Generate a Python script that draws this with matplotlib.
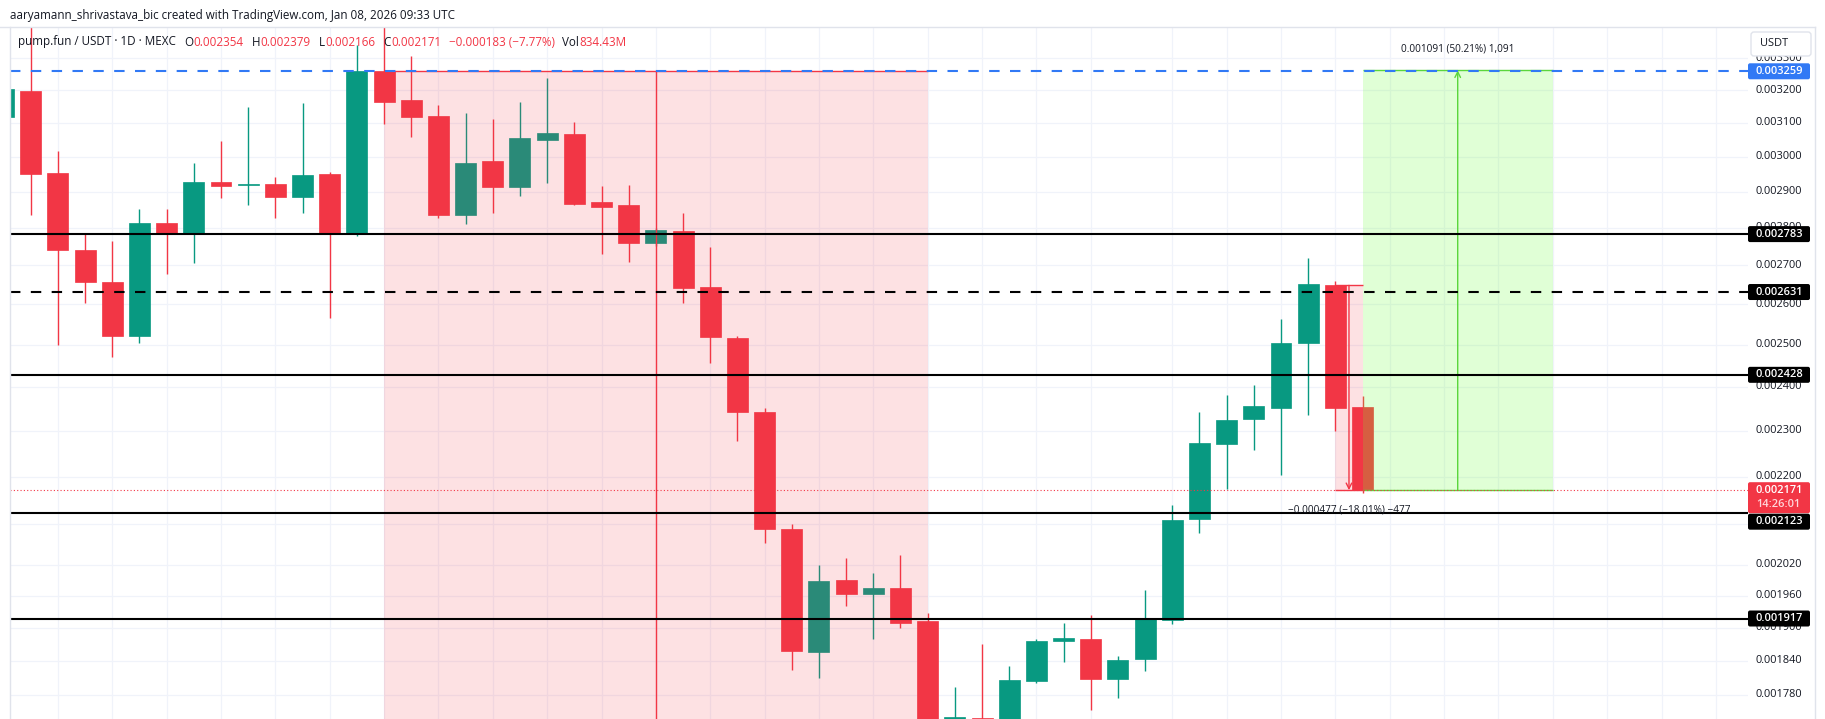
import matplotlib
matplotlib.use("Agg")
import matplotlib.pyplot as plt
from matplotlib.patches import Rectangle, FancyBboxPatch
import numpy as np

plt.rcParams['font.family'] = ['Open Sans', 'DejaVu Sans']

# ---------------- data ----------------
day_index = list(range(-1, 50))
opens = [0.003118, 0.003197, 0.002952, 0.002740, 0.002657, 0.002521, 0.002813, 0.002782, 0.002927, 0.002919,
         0.002921, 0.002886, 0.002950, 0.002786, 0.003259, 0.003169, 0.003120, 0.002835, 0.002987, 0.002914,
         0.003049, 0.003066, 0.002871, 0.002862, 0.002760, 0.002791, 0.002644, 0.002516, 0.002341, 0.002090,
         0.001856, 0.001990, 0.001964, 0.001975, 0.001912, 0.001700, 0.001741, 0.001720, 0.001805, 0.001876,
         0.001879, 0.001808, 0.001843, 0.001914, 0.002111, 0.002271, 0.002327, 0.002352, 0.002505, 0.002649,
         0.002354]
highs = [0.003212, 0.003420, 0.003016, 0.002783, 0.002764, 0.002851, 0.002851, 0.002981, 0.003046, 0.003148,
         0.002941, 0.003160, 0.002955, 0.003343, 0.003420, 0.003307, 0.003154, 0.003130, 0.003111, 0.003163,
         0.003237, 0.003102, 0.002916, 0.002918, 0.002800, 0.002840, 0.002748, 0.002521, 0.002350, 0.002100,
         0.002019, 0.002033, 0.002003, 0.002039, 0.001927, 0.001793, 0.001871, 0.001831, 0.001879, 0.001908,
         0.001924, 0.001849, 0.001971, 0.002140, 0.002341, 0.002381, 0.002404, 0.002563, 0.002720, 0.002659,
         0.002379]
lows = [0.003110, 0.002835, 0.002499, 0.002604, 0.002471, 0.002505, 0.002678, 0.002707, 0.002883, 0.002863,
        0.002827, 0.002841, 0.002566, 0.002778, 0.003098, 0.003058, 0.002827, 0.002811, 0.002841, 0.002888,
        0.002925, 0.002864, 0.002730, 0.002709, 0.002752, 0.002604, 0.002455, 0.002278, 0.002063, 0.001824,
        0.001810, 0.001941, 0.001879, 0.001900, 0.001660, 0.001680, 0.001680, 0.001700, 0.001800, 0.001837,
        0.001754, 0.001774, 0.001822, 0.001906, 0.002083, 0.002174, 0.002257, 0.002203, 0.002336, 0.002299,
        0.002166]
closes = [0.003203, 0.002951, 0.002741, 0.002657, 0.002521, 0.002814, 0.002784, 0.002927, 0.002916, 0.002922,
          0.002886, 0.002947, 0.002786, 0.003259, 0.003164, 0.003118, 0.002835, 0.002981, 0.002914, 0.003055,
          0.003069, 0.002866, 0.002858, 0.002760, 0.002794, 0.002642, 0.002519, 0.002341, 0.002090, 0.001858,
          0.001988, 0.001964, 0.001975, 0.001909, 0.001700, 0.001743, 0.001720, 0.001806, 0.001876, 0.001882,
          0.001807, 0.001841, 0.001916, 0.002109, 0.002273, 0.002324, 0.002356, 0.002504, 0.002651, 0.002352,
          0.002171]

tick_values = [0.0033, 0.0032, 0.0031, 0.0030, 0.0029, 0.0028, 0.0027, 0.0026, 0.0025, 0.0024,
               0.0023, 0.0022, 0.0021, 0.00202, 0.00196, 0.0019, 0.00184, 0.00178]
tick_labels = ["0.003300", "0.003200", "0.003100", "0.003000", "0.002900", "0.002800", "0.002700",
               "0.002600", "0.002500", "0.002400", "0.002300", "0.002200", "0.002100", "0.002020",
               "0.001960", "0.001900", "0.001840", "0.001780"]
vgrid_days = list(range(-1, 41, 2)) + list(range(42, 64, 2))

blue_level = 0.003259
solid_levels = [0.002783, 0.002428, 0.002123, 0.001917]
dashed_level = 0.002631
last_price = 0.002171
countdown = "14:26:01"

short_start, short_end, short_top, short_marker_day = 13, 33, 0.003259, 23
down_x0, down_x1, down_top, down_bottom = 48, 49, 0.002648, 0.002171
down_text = "\u22120.000477 (\u221218.01%) \u2212477"
up_x0, up_x1, up_bottom, up_top = 49, 56, 0.002171, 0.003262
up_text = "0.001091 (50.21%) 1,091"

header = "aaryamann_shrivastava_bic created with TradingView.com, Jan 08, 2026 09:33 UTC"
symbol = "pump.fun / USDT \u00b7 1D \u00b7 MEXC"
o_val, h_val, l_val, c_val = "0.002354", "0.002379", "0.002166", "0.002171"
change_txt = "\u22120.000183 (\u22127.77%)"
vol_txt = "834.43M"

# ---------------- style ----------------
RED = '#f23645'
GREEN = '#089981'
BLUE = '#3179f5'
GRID = '#f0f3fa'
TEXT = '#131722'
BORDER = '#e0e3eb'
LIME = '#5ad63c'

W, H = 1825, 719
PANE_L, PANE_R, PANE_T = 10, 1748, 27

fig = plt.figure(figsize=(W / 100, H / 100), dpi=100)
fig.patch.set_facecolor('white')
ax = fig.add_axes([PANE_L / W, 0, (PANE_R - PANE_L) / W, (H - PANE_T) / H])
ax.set_yscale('log')
ax.axis('off')

for v in tick_values:
    ax.axhline(v, color=GRID, lw=0.9, zorder=0.5)
for g in vgrid_days:
    ax.axvline(g, color=GRID, lw=0.9, zorder=0.5)

x = np.array(day_index, dtype=float)
o = np.array(opens); c = np.array(closes); h = np.array(highs); l = np.array(lows)
cols = [GREEN if cc >= oo else RED for oo, cc in zip(o, c)]
ax.vlines(x, l, h, colors=cols, lw=1.0, zorder=2)
ax.bar(x, np.abs(c - o), bottom=np.minimum(o, c), width=0.77, color=cols,
       edgecolor=cols, linewidth=0.5, zorder=2.1)

# short zone
ax.add_patch(Rectangle((short_start, 0.0015), short_end - short_start, short_top - 0.0015,
                       facecolor=RED, alpha=0.15, lw=0, zorder=3))
ax.hlines(short_top, short_start, short_end, color=RED, lw=1, zorder=3.5)
ax.vlines(short_marker_day, 0.0015, short_top, color=RED, lw=1, zorder=3.5)

# levels
for lv in solid_levels:
    ax.axhline(lv, color='black', lw=1.5, zorder=4)
ax.axhline(dashed_level, color='black', lw=1.5, ls=(0, (5, 5)), zorder=4)
ax.axhline(blue_level, color=BLUE, lw=1.5, ls=(0, (5, 5)), zorder=4.2)
ax.axhline(last_price, color=RED, lw=0.8, ls=(0, (1, 2)), zorder=4)

# measure down
ax.add_patch(Rectangle((down_x0, down_bottom), down_x1 - down_x0, down_top - down_bottom,
                       facecolor=RED, alpha=0.15, lw=0, zorder=3))
ax.hlines([down_top, down_bottom], down_x0, down_x1, color=RED, lw=1, zorder=3.5)
ax.annotate('', xy=((down_x0 + down_x1) / 2, down_bottom), xytext=((down_x0 + down_x1) / 2, down_top),
            arrowprops=dict(arrowstyle='->', color=RED, lw=1, shrinkA=0, shrinkB=0), zorder=3.6)

# measure up
ax.add_patch(Rectangle((up_x0, up_bottom), up_x1 - up_x0, up_top - up_bottom,
                       facecolor='#66ff33', alpha=0.2, lw=0, zorder=3))
ax.hlines([up_top, up_bottom], up_x0, up_x1, color=LIME, lw=1, zorder=3.5)
ax.annotate('', xy=(52.5, up_top), xytext=(52.5, up_bottom),
            arrowprops=dict(arrowstyle='->', color=LIME, lw=1, shrinkA=0, shrinkB=0), zorder=3.6)

ax.set_xlim(-0.7616, 63.18)
ax.set_ylim(0.001739, 0.003402)

ax.text((down_x0 + down_x1) / 2, 0.002130, down_text, ha='center', va='center', fontsize=7.2,
        color=TEXT, zorder=5)
ax.text(52.5, 0.003329, up_text, ha='center', va='center', fontsize=7.2, color=TEXT, zorder=5)

# ---------------- overlay in pixel coordinates ----------------
ov = fig.add_axes([0, 0, 1, 1])
ov.set_xlim(0, W)
ov.set_ylim(H, 0)
ov.axis('off')
fig.canvas.draw()
r = fig.canvas.get_renderer()


def ypix(p):
    return H - ax.transData.transform((0, p))[1]


def fit_size(txt, target, base=10):
    t = ov.text(0, 0, txt, fontsize=base)
    w = t.get_window_extent(renderer=r).width
    t.remove()
    return base * target / w


# borders
ov.plot([0, 1815], [PANE_T, PANE_T], color=BORDER, lw=1, zorder=1)
ov.plot([PANE_L, PANE_L], [PANE_T, H], color=BORDER, lw=1, zorder=1)
ov.plot([1815, 1815], [PANE_T, H], color=BORDER, lw=1, zorder=1)

# header
hs = fit_size(header, 447)
ov.text(10, 15.5, header, fontsize=hs, va='center', ha='left', color=TEXT)

ss = fit_size(symbol, 158)
pieces = [(symbol, TEXT, 8), ("O", TEXT, 0.5), (o_val, RED, 8), ("H", TEXT, 0.5), (h_val, RED, 8),
          ("L", TEXT, 0.5), (l_val, RED, 8), ("C", TEXT, 0.5), (c_val, RED, 8),
          (change_txt, RED, 7), ("Vol", TEXT, 0.5), (vol_txt, RED, 0)]
xx = 18
for txt, col, gap in pieces:
    t = ov.text(xx, 42, txt, fontsize=ss, va='center', ha='left', color=col, zorder=8)
    xx += t.get_window_extent(renderer=r).width + gap

# tick labels
fs = fit_size("0.003200", 47)
for v, lab in zip(tick_values, tick_labels):
    yp = ypix(v)
    if PANE_T + 25 < yp < H:
        ov.text(1756, yp, lab, fontsize=fs, va='center', ha='left', color=TEXT, zorder=5)

BOX_H = 16


def label_box(yc, txt, fc, tc='white', h=BOX_H):
    ov.add_patch(FancyBboxPatch((1748, yc - BOX_H / 2), 62, h, boxstyle='round,pad=0,rounding_size=2',
                                facecolor=fc, edgecolor='none', zorder=6))
    ov.text(1756, yc, txt, fontsize=fs, va='center', ha='left', color=tc, zorder=7,
            fontweight='semibold')


label_box(ypix(blue_level), f"{blue_level:.6f}", BLUE)
label_box(ypix(solid_levels[0]), f"{solid_levels[0]:.6f}", 'black')
label_box(ypix(dashed_level), f"{dashed_level:.6f}", 'black')
label_box(ypix(solid_levels[1]), f"{solid_levels[1]:.6f}", 'black')
yl = ypix(last_price)
label_box(yl, f"{last_price:.6f}", RED, h=31)
ov.text(1756, yl + 14.5, countdown, fontsize=fs, va='center', ha='left', color='#ffd6da', zorder=7,
        fontweight='semibold')
y2 = max(ypix(solid_levels[2]), yl + 31 - BOX_H / 2 + BOX_H / 2 + 0.5)
label_box(y2, f"{solid_levels[2]:.6f}", 'black')
label_box(ypix(solid_levels[3]), f"{solid_levels[3]:.6f}", 'black')

# currency box
ov.add_patch(FancyBboxPatch((1751, 32), 60, 24, boxstyle='round,pad=0,rounding_size=3',
                            facecolor='white', edgecolor=BORDER, lw=1, zorder=6))
ov.text(1760, 44, "USDT", fontsize=fs, va='center', ha='left', color=TEXT, zorder=7)

fig.savefig('out.png', dpi=100, facecolor='white')
